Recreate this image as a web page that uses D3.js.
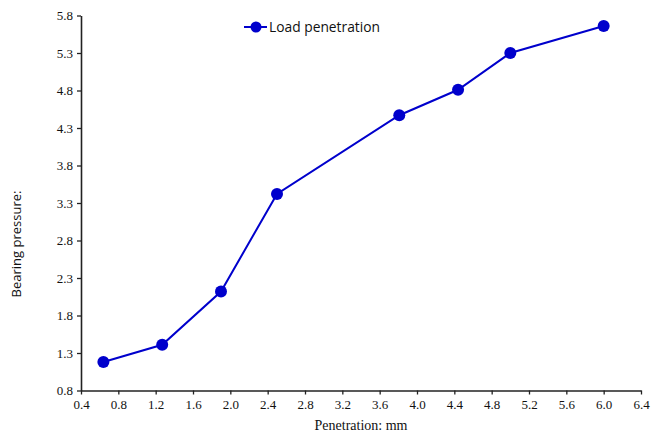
<!DOCTYPE html>
<html>
<head>
<meta charset="utf-8">
<script src="https://cdn.jsdelivr.net/npm/d3@7"></script>
<style>
    body { margin: 0; background: #fff; }
    svg { display: block; }
</style>
</head>
<body>
<svg id="chart" width="653" height="433"></svg>
<script>
// Data
const penetration = [0.64, 1.27, 1.9, 2.5, 3.81, 4.44, 5.0, 6.0];
const bearingPressure = [1.18, 1.41, 2.12, 3.42, 4.47, 4.81, 5.30, 5.66];
const xTickValues = [0.4, 0.8, 1.2, 1.6, 2.0, 2.4, 2.8, 3.2, 3.6, 4.0, 4.4, 4.8, 5.2, 5.6, 6.0, 6.4];
const yTickValues = [0.8, 1.3, 1.8, 2.3, 2.8, 3.3, 3.8, 4.3, 4.8, 5.3, 5.8];
const seriesName = "Load penetration";

const svg = d3.select("#chart");
const lineColor = "#0000cc";

const x = d3.scaleLinear().domain([0.4, 6.4]).range([81, 641]);
const y = d3.scaleLinear().domain([0.8, 5.8]).range([390.5, 15.5]);

const points = penetration.map((p, i) => ({ x: p, y: bearingPressure[i] }));

// Axes
const xAxis = svg.append("g")
    .attr("transform", `translate(0,${y.range()[0]})`)
    .call(d3.axisBottom(x).tickValues(xTickValues).tickSize(4).tickSizeOuter(0).tickFormat(d3.format(".1f")));

const yAxis = svg.append("g")
    .attr("transform", `translate(${x.range()[0]},0)`)
    .call(d3.axisLeft(y).tickValues(yTickValues).tickSize(4).tickSizeOuter(0).tickFormat(d3.format(".1f")));

[xAxis, yAxis].forEach(g => {
    g.select(".domain").attr("stroke", "#222").attr("stroke-width", 1.6);
    g.selectAll(".tick line").attr("stroke", "#222").attr("stroke-width", 1.3);
    g.selectAll(".tick text")
        .attr("fill", "#111")
        .style("font-family", "'Liberation Serif', 'Times New Roman', serif")
        .style("font-size", "13px");
});
xAxis.selectAll(".tick text").attr("dy", "0.9em");
yAxis.selectAll(".tick text").attr("x", -8);

// Axis titles
svg.append("text")
    .attr("x", (x.range()[0] + x.range()[1]) / 2)
    .attr("y", 430)
    .attr("text-anchor", "middle")
    .style("font-family", "'Liberation Serif', 'Times New Roman', serif")
    .style("font-size", "14px")
    .attr("fill", "#111")
    .text("Penetration: mm");

svg.append("text")
    .attr("transform", "translate(21,244) rotate(-90)")
    .attr("text-anchor", "middle")
    .style("font-family", "'Open Sans', 'Liberation Sans', sans-serif")
    .style("font-size", "13px")
    .attr("fill", "#111")
    .text("Bearing pressure:");

// Line and markers
const line = d3.line().x(d => x(d.x)).y(d => y(d.y));

svg.append("path")
    .datum(points)
    .attr("fill", "none")
    .attr("stroke", lineColor)
    .attr("stroke-width", 2)
    .attr("d", line);

svg.selectAll("circle.pt")
    .data(points)
    .enter().append("circle")
    .attr("class", "pt")
    .attr("cx", d => x(d.x))
    .attr("cy", d => y(d.y))
    .attr("r", 6)
    .attr("fill", lineColor);

// Legend
const legend = svg.append("g").attr("transform", "translate(244,27)");
legend.append("line")
    .attr("x1", 0).attr("x2", 23)
    .attr("stroke", lineColor).attr("stroke-width", 2);
legend.append("circle")
    .attr("cx", 12).attr("r", 5.5)
    .attr("fill", lineColor);
legend.append("text")
    .attr("x", 25)
    .attr("dy", "0.35em")
    .style("font-family", "'Open Sans', 'Liberation Sans', sans-serif")
    .style("font-size", "13.8px")
    .attr("fill", "#111")
    .text(seriesName);
</script>
</body>
</html>
